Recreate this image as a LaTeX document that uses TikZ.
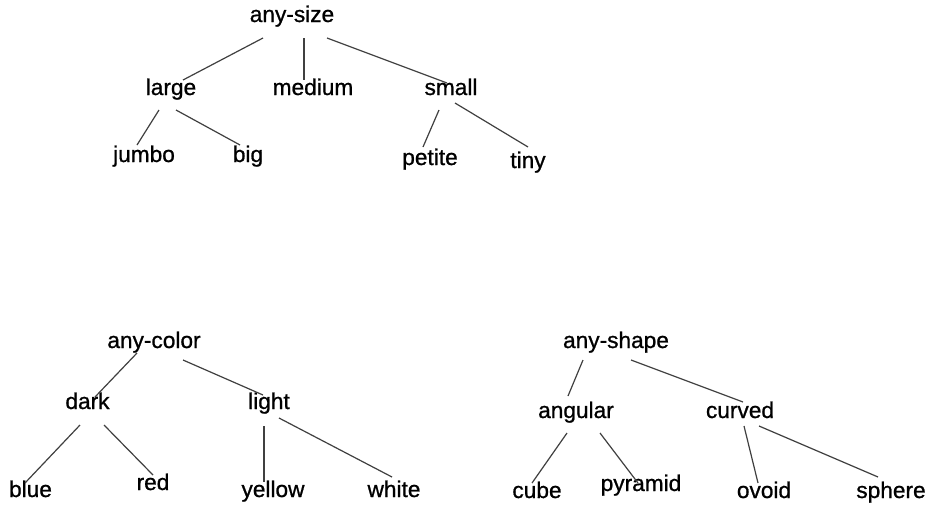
\documentclass[tikz,border=0pt]{standalone}
\usepackage{fontspec}
\setmainfont{Liberation Sans}
\newfontfamily\lblfont{Liberation Sans}[FakeBold=0.9]
\begin{document}
\begin{tikzpicture}[x=0.75pt,y=-0.75pt,
  lbl/.style={anchor=base,inner sep=0pt,font=\lblfont\fontsize{17}{20}\selectfont,text=black},
  conn/.style={draw=black!75,line width=0.9pt}]
\useasboundingbox[fill=white] (0,0) rectangle (930,504);
% size tree
\node[lbl] (anysize) at (292,22) {any-size};
\node[lbl] (large) at (171,95) {large};
\node[lbl] (medium) at (313,95) {medium};
\node[lbl] (small) at (451,95) {small};
\node[lbl] (jumbo) at (144,162) {jumbo};
\node[lbl] (big) at (248,162) {big};
\node[lbl] (petite) at (430,165) {petite};
\node[lbl] (tiny) at (528,168) {tiny};
% color tree
\node[lbl] (anycolor) at (154,348) {any-color};
\node[lbl] (dark) at (87.5,409) {dark};
\node[lbl] (light) at (269,409) {light};
\node[lbl] (blue) at (30.5,497) {blue};
\node[lbl] (red) at (153,490) {red};
\node[lbl] (yellow) at (273,497) {yellow};
\node[lbl] (white) at (394,497) {white};
% shape tree
\node[lbl] (anyshape) at (616,348) {any-shape};
\node[lbl] (angular) at (576,418) {angular};
\node[lbl] (curved) at (740,418) {curved};
\node[lbl] (cube) at (537,498) {cube};
\node[lbl] (pyramid) at (641,491) {pyramid};
\node[lbl] (ovoid) at (764,498) {ovoid};
\node[lbl] (sphere) at (891,498) {sphere};
% connectors
\draw[conn] ([shift={(-29,16)}]anysize.base) -- ([shift={(12,-15)}]large.base);
\draw[conn] ([shift={(12,16)}]anysize.base) -- ([shift={(-9,-15)}]medium.base);
\draw[conn] ([shift={(35,16)}]anysize.base) -- ([shift={(-4,-12)}]small.base);
\draw[conn] ([shift={(-12,15)}]large.base) -- ([shift={(-7,-17)}]jumbo.base);
\draw[conn] ([shift={(5,15)}]large.base) -- ([shift={(-8,-17)}]big.base);
\draw[conn] ([shift={(-12,15)}]small.base) -- ([shift={(-7,-18)}]petite.base);
\draw[conn] ([shift={(4,8)}]small.base) -- ([shift={(0,-21)}]tiny.base);
\draw[conn] ([shift={(-17,5)}]anycolor.base) -- ([shift={(7.5,-12)}]dark.base);
\draw[conn] ([shift={(29,12)}]anycolor.base) -- ([shift={(-6,-14)}]light.base);
\draw[conn] ([shift={(-7.5,16)}]dark.base) -- ([shift={(-5.5,-14)}]blue.base);
\draw[conn] ([shift={(16.5,16)}]dark.base) -- ([shift={(0,-15)}]red.base);
\draw[conn] ([shift={(-5,17)}]light.base) -- ([shift={(-9,-15)}]yellow.base);
\draw[conn] ([shift={(10,9)}]light.base) -- ([shift={(-2,-20)}]white.base);
\draw[conn] ([shift={(-33,12)}]anyshape.base) -- ([shift={(-8,-22)}]angular.base);
\draw[conn] ([shift={(15,12)}]anyshape.base) -- ([shift={(3,-16)}]curved.base);
\draw[conn] ([shift={(-9,15)}]angular.base) -- ([shift={(-5,-15)}]cube.base);
\draw[conn] ([shift={(24,15)}]angular.base) -- ([shift={(-3,-8)}]pyramid.base);
\draw[conn] ([shift={(4,8)}]curved.base) -- ([shift={(-6,-15)}]ovoid.base);
\draw[conn] ([shift={(19,8)}]curved.base) -- ([shift={(-13,-21)}]sphere.base);
\end{tikzpicture}
\end{document}
